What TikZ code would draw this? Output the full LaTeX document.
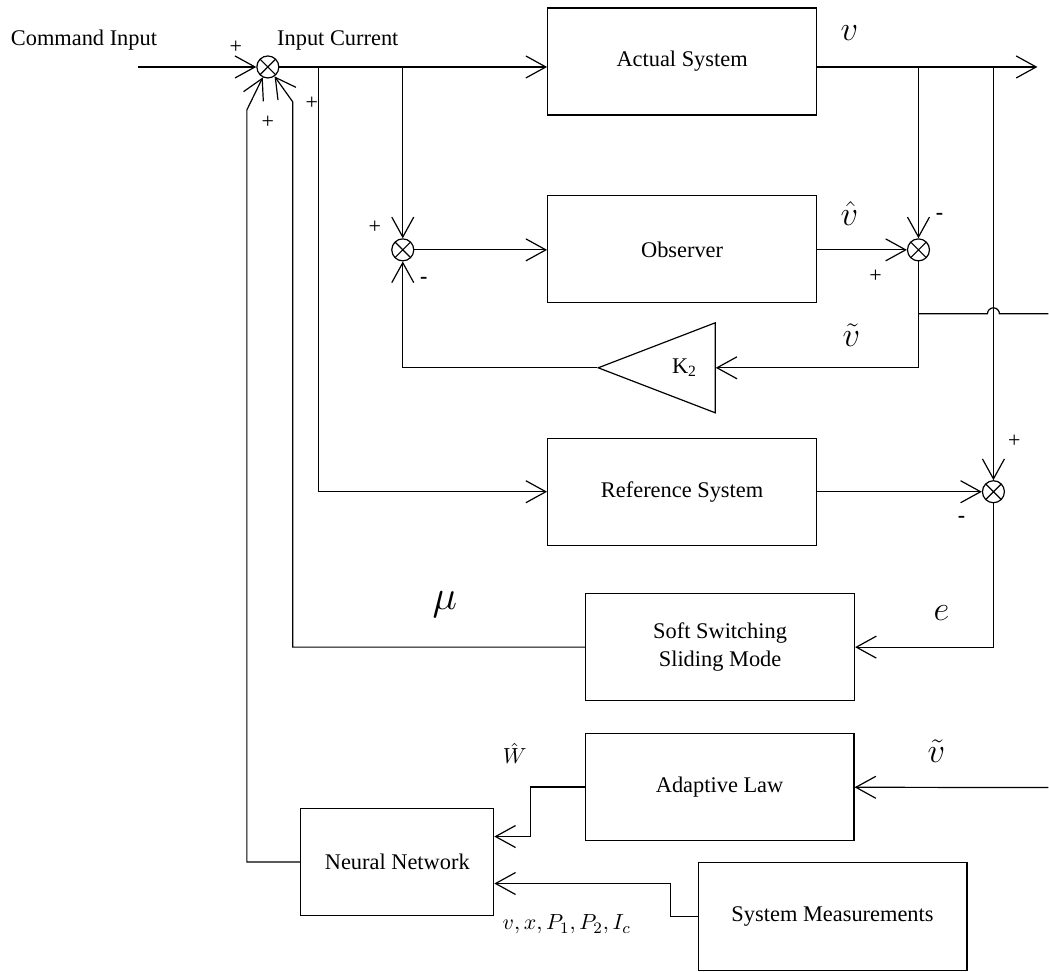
\documentclass[tikz,border=0pt]{standalone}
\usepackage{fontspec}
\setmainfont{Liberation Serif}
\usetikzlibrary{arrows.meta,shapes.geometric,calc}

\tikzset{
  block/.style={draw, rectangle, minimum width=134.5pt, minimum height=53.5pt, inner sep=0pt, align=center, font=\fontsize{11.2}{14}\selectfont},
  sumj/.style={draw, circle, minimum size=11pt, inner sep=0pt,
    path picture={\draw (path picture bounding box.north west) -- (path picture bounding box.south east)
                        (path picture bounding box.south west) -- (path picture bounding box.north east);}},
  gain/.style={draw, isosceles triangle, isosceles triangle stretches, shape border rotate=180, minimum width=45pt, minimum height=58.5pt, inner sep=0pt, font=\fontsize{11.2}{14}\selectfont},
  lbl/.style={font=\fontsize{11.2}{14}\selectfont},
  sgn/.style={font=\fontsize{11}{12}\selectfont},
  mns/.style={font=\fontsize{11}{12}\selectfont\bfseries},
  sig/.style={font=\fontsize{19}{21}\selectfont},
}

\begin{document}
\begin{tikzpicture}[x=0.5pt, y=-0.5pt, line width=0.6pt, >={Straight Barb[length=10pt,width=11pt]}]
\path[fill=white] (0,0) rectangle (1049,969);
\node[lbl] (cmdtxt) at (84,40) {Command Input};
\node[lbl] (curtxt) at (338,40) {Input Current};
\node[sumj] (s1) at (268,67) {};
\node[block] (act) at (682.5,61.5) {Actual System};
\node[sumj] (s2) at (403,250) {};
\node[block] (obs) at (682.5,249.5) {Observer};
\node[sumj] (s3) at (919,250) {};
\node[gain, anchor=apex] (k2) at (597,368) {K\textsubscript{2}\hspace{10pt}};
\node[sumj] (s4) at (994,492) {};
\node[block] (ref) at (682.5,492) {Reference System};
\node[block] (ssm) at (720.5,647.5) {Soft Switching\\Sliding Mode};
\node[block] (ada) at (720,787.5) {Adaptive Law};
\node[block, minimum width=96.5pt] (nn) at (397.5,862.5) {Neural Network};
\node[block, minimum height=54pt] (meas) at (833,917) {System Measurements};
\coordinate (cin) at (138,67);
\coordinate (out) at (1038,67);
\coordinate (b1) at (319,67);
\coordinate (b2) at (403,67);
\coordinate (b3) at (919,67);
\coordinate (b4) at (994,67);
\coordinate (c1) at (919,314);
\coordinate (vt1) at (1049,314);
\coordinate (vt2) at (1049,788);
\coordinate (f1) at (293,102);
\coordinate (f2) at (247,110);
\draw[->] (cin) -- (s1);
\draw[->] (s1) -- (s1 -| act.west);
\draw[->] (act.east |- s1) -- (out);
\draw[->] (b2) -- (s2);
\draw[->] (s2) -- (s2 -| obs.west);
\draw[->] (obs.east |- s3) -- (s3);
\draw[->] (b3) -- (s3);
\draw[->] (s3) |- (k2);
\draw[->] (k2.apex) -| (s2);
\draw (c1) -- ($(b4 |- c1)+(-6,0)$) arc[start angle=180, end angle=0, radius=3pt] -- (vt1);
\draw[->] (b1) |- (ref);
\draw[->] (ref) -- (s4);
\draw[->] (b4) -- (s4);
\draw[->] (s4) |- (ssm);
\draw[->] (ssm) -| (f1) -- (s1);
\draw[->] (vt2) -- (ada);
\draw[->] (ada.west) -- ++(-54,0) |- ($(nn.east)+(0,-25.5)$);
\draw[->] (meas.west) -- ++(-27,0) |- ($(nn.east)+(0,21.5)$);
\draw[->] (nn) -| (f2) -- (s1);
\node[sgn] (p1) at (236,47) {+};
\node[sgn] (p2) at (268,122) {+};
\node[sgn] (p3) at (312,103) {+};
\node[sgn] (p4) at (375,227) {+};
\node[sgn] (p5) at (876,276) {+};
\node[sgn] (p6) at (1015,442) {+};
\node[mns] (m1) at (424,281) {-};
\node[mns] (m2) at (940,217) {-};
\node[mns] (m3) at (962,520) {-};
\node[sig] (lv) at (850,33) {$v$};
\node[sig] (lvh) at (850,214) {$\hat{v}$};
\node[sig] (lvt) at (852,335) {$\tilde{v}$};
\node[sig, font=\fontsize{21}{23}\selectfont] (lmu) at (445,605) {$\mu$};
\node[sig] (le) at (942,613) {$e$};
\node[sig] (lvt2) at (937,752) {$\tilde{v}$};
\node[font=\fontsize{11}{12}\selectfont, inner sep=1pt] (lw) at (515,754) {$\hat{W}$};
\node[font=\fontsize{11.2}{13}\selectfont] (lmeas) at (567,925) {$v,x,P_1,P_2,I_c$};
\end{tikzpicture}
\end{document}
